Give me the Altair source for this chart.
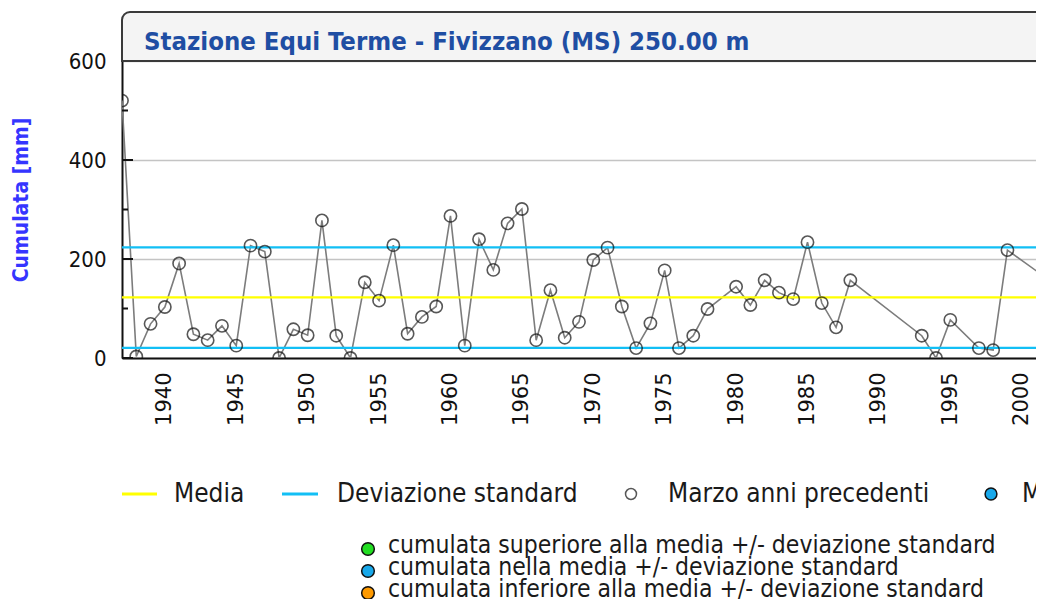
import altair as alt
import pandas as pd

# ---- data ----
years = [1937, 1938, 1939, 1940, 1941, 1942, 1943, 1944, 1945, 1946,
         1947, 1948, 1949, 1950, 1951, 1952, 1953, 1954, 1955, 1956,
         1957, 1958, 1959, 1960, 1961, 1962, 1963, 1964, 1965, 1966,
         1967, 1968, 1969, 1970, 1971, 1972, 1973, 1974, 1975, 1976,
         1977, 1978, 1980, 1981, 1982, 1983, 1984, 1985, 1986, 1987,
         1988, 1993, 1994, 1995, 1997, 1998, 1999, 2003]
values = [520, 3, 69, 103, 191, 48, 36, 65, 25, 227,
          215, 0, 58, 46, 278, 45, 0, 153, 116, 228,
          49, 83, 104, 287, 25, 240, 178, 272, 301, 36,
          137, 41, 73, 198, 223, 104, 20, 70, 177, 20,
          45, 99, 144, 107, 157, 132, 119, 234, 111, 62,
          157, 45, 0, 77, 20, 16, 218, 135]

media = 122.5
dev_sup = 223.5
dev_inf = 20.5

title_text = "Stazione Equi Terme - Fivizzano (MS) 250.00 m"
y_title = "Cumulata [mm]"
legend_row = ["Media", "Deviazione standard", "Marzo anni precedenti", "Marzo 2016"]
legend_low = ["cumulata superiore alla media +/- deviazione standard",
              "cumulata nella media +/- deviazione standard",
              "cumulata inferiore alla media +/- deviazione standard"]
legend_low_colors = ["#22dd22", "#18a8ea", "#ff9a00"]
x_ticks = list(range(1940, 2001, 5))
y_major = [0, 200, 400, 600]
y_minor = [100, 300, 500]

COND = "DejaVu Sans Condensed, DejaVu Sans, sans-serif"
REG = "DejaVu Sans, sans-serif"

W, H = 914, 297
xscale = alt.Scale(domain=[1937, 2001.0], nice=False, zero=False)
yscale = alt.Scale(domain=[0, 600], nice=False)

df = pd.DataFrame({"year": years, "val": values})
one = pd.DataFrame({"a": [0]})

# title box
box = alt.Chart(one).mark_rect(fill="#f4f4f4", stroke="#3a3a3a", strokeWidth=2,
                                cornerRadiusTopLeft=8).encode(
    x=alt.value(0), x2=alt.value(960), y=alt.value(-49), y2=alt.value(0))

title = alt.Chart(one).mark_text(text=title_text, font=COND, fontSize=25.5, fontWeight="bold",
                                  color="#1f4ea3", align="left", baseline="middle").encode(
    x=alt.value(22), y=alt.value(-19))

ytitle = alt.Chart(one).mark_text(text=y_title, font=COND, fontSize=21, fontWeight="bold",
                                   color="#3535ff", angle=270, align="center",
                                   baseline="middle").encode(
    x=alt.value(-100), y=alt.value(139))

line = alt.Chart(df).mark_line(color="#7c7c7c", strokeWidth=1.6, clip=True).encode(
    x=alt.X("year:Q", scale=xscale,
            axis=alt.Axis(values=x_ticks, format="d", labelAngle=-90, ticks=False,
                          grid=False, domainColor="#111", domainWidth=2,
                          labelFont=REG, labelFontSize=21, labelColor="#111",
                          labelPadding=14, title=None)),
    y=alt.Y("val:Q", scale=yscale,
            axis=alt.Axis(values=y_major, ticks=False, grid=True, gridColor="#c4c4c4",
                          gridWidth=1.5, domainColor="#111", domainWidth=2,
                          labelFont=COND, labelFontSize=22, labelColor="#111",
                          labelPadding=16, title=None)))

pts = alt.Chart(df).mark_point(shape="circle", filled=False, color="#111", strokeWidth=1.6,
                               size=150, clip=True).encode(x="year:Q", y="val:Q")

refdf = pd.DataFrame({"val": [media, dev_sup, dev_inf],
                      "kind": ["m", "s", "s"]})
refs = alt.Chart(refdf).mark_rule(strokeWidth=2.2).encode(
    y="val:Q", x=alt.value(0), x2=alt.value(W),
    color=alt.Color("kind:N", scale=alt.Scale(domain=["m", "s"], range=["#ffff00", "#12bff5"]),
                    legend=None))

tmaj = alt.Chart(pd.DataFrame({"val": y_major})).mark_rule(color="#111", strokeWidth=2).encode(
    y="val:Q", x=alt.value(0), x2=alt.value(11))
tmin = alt.Chart(pd.DataFrame({"val": y_minor})).mark_rule(color="#111", strokeWidth=2).encode(
    y="val:Q", x=alt.value(0), x2=alt.value(6))

# legend row
LY = 433
leg_y = alt.Chart(one).mark_rule(color="#ffff00", strokeWidth=3).encode(
    x=alt.value(0), x2=alt.value(35), y=alt.value(LY))
leg_c = alt.Chart(one).mark_rule(color="#12bff5", strokeWidth=3).encode(
    x=alt.value(160), x2=alt.value(196), y=alt.value(LY))
leg_txt = alt.Chart(pd.DataFrame({"t": legend_row, "px": [52, 215, 546, 900]})).mark_text(
    font=COND, fontSize=26, color="#1a1a1a", align="left", baseline="middle").encode(
    text="t:N", x=alt.X("px:Q", scale=None), y=alt.value(LY))
leg_o = alt.Chart(one).mark_point(shape="circle", filled=False, color="#111", strokeWidth=1.5,
                                  size=120).encode(x=alt.value(509), y=alt.value(LY))
leg_b = alt.Chart(one).mark_point(shape="circle", filled=True, fill="#18a8ea", stroke="#111",
                                  strokeWidth=1.5, size=140, opacity=1).encode(
    x=alt.value(869), y=alt.value(LY))

low = pd.DataFrame({"t": legend_low, "py": [485, 507, 529], "c": legend_low_colors})
low_txt = alt.Chart(low).mark_text(font=COND, fontSize=24.5, color="#1a1a1a", align="left",
                                   baseline="middle").encode(
    text="t:N", x=alt.value(266), y=alt.Y("py:Q", scale=None))
low_mk = alt.Chart(low).mark_point(shape="circle", filled=True, stroke="#111", strokeWidth=1.5,
                                   size=160, opacity=1).encode(
    x=alt.value(246), y=alt.Y("py2:Q", scale=None),
    fill=alt.Fill("c:N", scale=None)).transform_calculate(py2="datum.py + 3")

chart = alt.layer(
    line, refs, tmaj, tmin, pts, box, title, ytitle,
    leg_y, leg_c, leg_txt, leg_o, leg_b, low_txt, low_mk
).resolve_scale(x="shared", y="shared").properties(
    width=W, height=H,
    autosize=alt.AutoSizeParams(type="none"),
    padding={"left": 114, "top": 53, "right": 0, "bottom": 241},
).configure_view(stroke=None).configure(background="white")

chart.save("out.html", embed_options={"renderer": "svg", "actions": False})
